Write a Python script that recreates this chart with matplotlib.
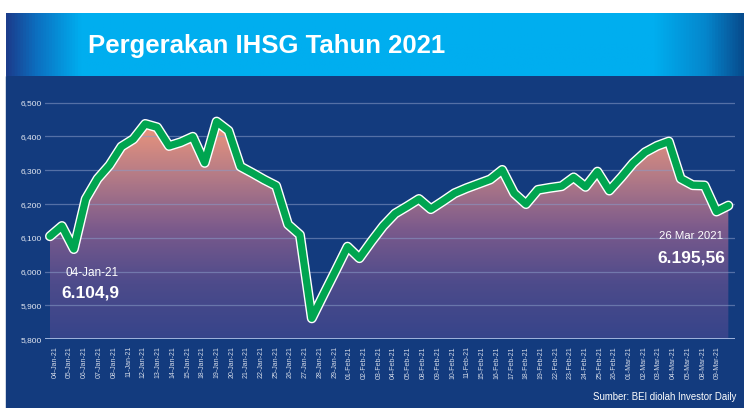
import numpy as np
import matplotlib.pyplot as plt
from matplotlib.patches import Rectangle, Polygon
from matplotlib.colors import LinearSegmentedColormap

# trading days shown by the line (04 Jan - 26 Mar 2021)
dates = ["04-Jan", "05-Jan", "06-Jan", "07-Jan", "08-Jan", "11-Jan", "12-Jan", "13-Jan",
         "14-Jan", "15-Jan", "18-Jan", "19-Jan", "20-Jan", "21-Jan", "22-Jan", "25-Jan",
         "26-Jan", "27-Jan", "28-Jan", "29-Jan", "01-Feb", "02-Feb", "03-Feb", "04-Feb",
         "05-Feb", "08-Feb", "09-Feb", "10-Feb", "11-Feb", "15-Feb", "16-Feb", "17-Feb",
         "18-Feb", "19-Feb", "22-Feb", "23-Feb", "24-Feb", "25-Feb", "26-Feb", "01-Mar",
         "02-Mar", "03-Mar", "04-Mar", "05-Mar", "08-Mar", "09-Mar", "10-Mar", "12-Mar",
         "15-Mar", "16-Mar", "17-Mar", "18-Mar", "19-Mar", "22-Mar", "23-Mar", "24-Mar",
         "25-Mar", "26-Mar"]

ihsg = [6104.9, 6135, 6067, 6215, 6275, 6315, 6370, 6392, 6437, 6427,
        6372, 6383, 6399, 6322, 6444, 6417, 6311, 6292, 6272, 6254,
        6140, 6109, 5862, 5933, 6003, 6074, 6040, 6089, 6135, 6172,
        6193, 6215, 6185, 6208, 6232, 6247, 6260, 6273, 6301, 6232,
        6200, 6242, 6248, 6253, 6279, 6251, 6296, 6240, 6279, 6321,
        6353, 6372, 6385, 6275, 6256, 6255, 6178, 6195.56]

# axis labels printed under the chart
tick_labels = ["04-Jan-21", "05-Jan-21", "06-Jan-21", "07-Jan-21", "08-Jan-21", "11-Jan-21",
               "12-Jan-21", "13-Jan-21", "14-Jan-21", "15-Jan-21", "18-Jan-21", "19-Jan-21",
               "20-Jan-21", "21-Jan-21", "22-Jan-21", "25-Jan-21", "26-Jan-21", "27-Jan-21",
               "28-Jan-21", "29-Jan-21", "01-Feb-21", "02-Feb-21", "03-Feb-21", "04-Feb-21",
               "05-Feb-21", "08-Feb-21", "09-Feb-21", "10-Feb-21", "11-Feb-21", "15-Feb-21",
               "16-Feb-21", "17-Feb-21", "18-Feb-21", "19-Feb-21", "22-Feb-21", "23-Feb-21",
               "24-Feb-21", "25-Feb-21", "26-Feb-21", "01-Mar-21", "02-Mar-21", "03-Mar-21",
               "04-Mar-21", "05-Mar-21", "08-Mar-21", "09-Mar-21"]
y_ticks = [5800, 5900, 6000, 6100, 6200, 6300, 6400, 6500]

navy = "#133b7e"
font = ["Liberation Sans", "DejaVu Sans"]

fig = plt.figure(figsize=(7.44, 4.08), dpi=100)
fig.patch.set_facecolor("white")

# navy panel
fig.add_artist(Rectangle((6 / 744, 0), 738 / 744, 1 - 76 / 408,
                         transform=fig.transFigure, color=navy, zorder=0))

# title banner with horizontal gradient
bax = fig.add_axes([6 / 744, 1 - 76 / 408, 738 / 744, 63 / 408])
bcmap = LinearSegmentedColormap.from_list(
    "banner", [(0, "#1b3d8c"), (0.04, "#0c6fc0"), (0.1, "#00aeef"),
               (0.88, "#00aeef"), (0.95, "#0586cc"), (1, "#074c8e")])
bax.imshow(np.linspace(0, 1, 512).reshape(1, -1), aspect="auto", cmap=bcmap,
           extent=[0, 1, 0, 1])
bax.axis("off")
fig.text(267 / 744, 1 - 53 / 408, "Pergerakan IHSG Tahun 2021", color="white",
         fontsize=18.5, fontweight="bold", family=font, ha="center", va="baseline")

# main chart
ax = fig.add_axes([45 / 744, 1 - 339.3 / 408, 690 / 744, (339.3 - 95.9) / 408])
ax.set_facecolor("none")
x = np.arange(len(ihsg))
ax.set_xlim(-0.42, 57.56)
ax.set_ylim(5800, 6520)

# gradient fill under the line
verts = list(zip(x, ihsg)) + [(x[-1], 5800), (x[0], 5800)]
clip = Polygon(verts, closed=True, facecolor="none", edgecolor="none")
ax.add_patch(clip)
fcmap = LinearSegmentedColormap.from_list(
    "fill", ["#36448a", "#4d4b8b", "#7b5a8c", "#b67c86", "#f0977b"])
im = ax.imshow(np.linspace(0, 1, 256).reshape(-1, 1), aspect="auto", cmap=fcmap,
               origin="lower", extent=[x[0], x[-1], 5800, 6450], zorder=1)
im.set_clip_path(clip)

for yv in y_ticks[1:]:
    ax.axhline(yv, color="#8a9cc8", alpha=0.55, lw=0.9, zorder=2)
ax.axhline(5800, color="#9fb4dc", lw=1.4, zorder=2)

ax.plot(x, ihsg, color="white", lw=7.2, solid_joinstyle="round",
        solid_capstyle="round", zorder=3)
ax.plot(x, ihsg, color="#00a550", lw=5.2, solid_joinstyle="round",
        solid_capstyle="round", zorder=4)

for s in ax.spines.values():
    s.set_visible(False)
ax.set_yticks(y_ticks)
ax.set_yticklabels([f"{v:,}" for v in y_ticks], family=font, fontsize=6,
                   color="#e3e8f2")
ax.set_xticks(np.linspace(0.42, 56.1, len(tick_labels)))
ax.set_xticklabels(tick_labels, rotation=90, family=font, fontsize=5,
                   color="#d3dae8", va="top")
ax.tick_params(length=0)
ax.tick_params(axis="y", pad=2)
ax.tick_params(axis="x", pad=5)

# start / end annotations
ax.text(3.5, 5996, "04-Jan-21", color="white", fontsize=8.5, family=font,
        ha="center", va="center", zorder=5)
ax.text(3.4, 5937, "6.104,9", color="white", fontsize=12.5, fontweight="bold",
        family=font, ha="center", va="center", zorder=5)
ax.text(56.55, 6106, "26 Mar 2021", color="white", fontsize=8.2, family=font,
        ha="right", va="center", zorder=5)
ax.text(56.72, 6041, "6.195,56", color="white", fontsize=12.5, fontweight="bold",
        family=font, ha="right", va="center", zorder=5)

fig.text(736 / 744, 1 - 397 / 408, "Sumber: BEI diolah Investor Daily", color="white",
         fontsize=6.9, family=font, ha="right", va="center")

fig.savefig("out.png", dpi=100)
